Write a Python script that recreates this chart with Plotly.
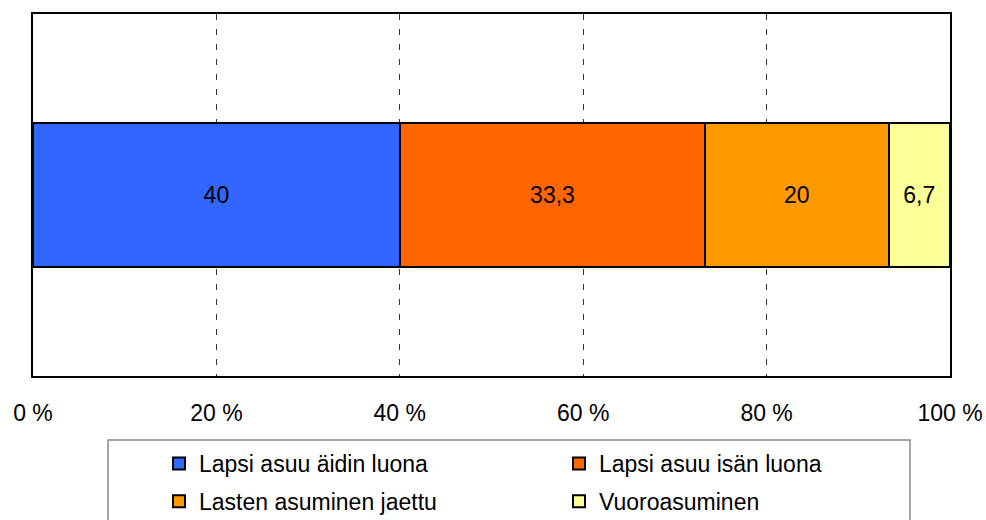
import plotly.graph_objects as go

categories = ["Lapsi asuu äidin luona", "Lapsi asuu isän luona", "Lasten asuminen jaettu", "Vuoroasuminen"]
values = [40, 33.3, 20, 6.7]
colors = ["#3366FF", "#FF6600", "#FF9900", "#FFFF99"]
legend_column = ["legend", "legend2", "legend", "legend2"]
tick_values = [0, 20, 40, 60, 80, 100]
tick_labels = ["0 %", "20 %", "40 %", "60 %", "80 %", "100 %"]

W, H = 986, 520
PL, PR, PT, PB = 33, 950, 14, 376          # plot area in page pixels
L, R, T, B = PL, W - PR, PT, H - PB
pw = W - L - R
ph = H - T - B
FONT = "Liberation Sans, Arial, sans-serif"


def px(xp):
    return (xp - PL) / pw


def py(yp):
    return (PB - yp) / ph


fig = go.Figure()
for i, (name, v, c, lg) in enumerate(zip(categories, values, colors, legend_column)):
    fig.add_trace(go.Bar(
        x=[v], y=[0], name=name, orientation="h", width=0.4,
        legend=lg, legendgroup=f"g{i}",
        marker=dict(color=c, line=dict(color="black", width=2)),
        text=[f"{v:g}".replace(".", ",")], textposition="inside",
        insidetextanchor="middle",
        textfont=dict(color="black", size=23, family=FONT),
        hoverinfo="skip",
    ))

legend_common = dict(orientation="v", xanchor="left", yanchor="top",
                     y=py(442), bgcolor="rgba(0,0,0,0)", borderwidth=0,
                     font=dict(size=23, family=FONT, color="black"),
                     traceorder="grouped", tracegroupgap=5, itemwidth=30)

fig.update_layout(
    width=W, height=H, barmode="stack",
    margin=dict(l=L, r=R, t=T, b=B, autoexpand=False),
    paper_bgcolor="white", plot_bgcolor="white",
    font=dict(family=FONT, size=23, color="black"),
    xaxis=dict(range=[0, 100], tickvals=tick_values, ticktext=tick_labels,
               showgrid=True, gridcolor="#333333", griddash="6px,9px", gridwidth=1,
               showline=True, linecolor="black", linewidth=2, mirror=True,
               ticks="", zeroline=False, tickfont=dict(size=23), ticklabelstandoff=15),
    yaxis=dict(range=[-0.5, 0.5], showticklabels=False, showgrid=False,
               showline=True, linecolor="black", linewidth=2, mirror=True,
               zeroline=False, ticks=""),
    showlegend=True,
    legend=dict(x=px(159), **legend_common),
    legend2=dict(x=px(559), **legend_common),
    shapes=[dict(type="rect", xref="paper", yref="paper",
                 x0=px(108), x1=px(910), y0=py(440), y1=py(540),
                 line=dict(color="#888888", width=1.5), fillcolor="rgba(0,0,0,0)",
                 layer="below")],
)

fig.write_html("out.html",
               config={"displayModeBar": False, "staticPlot": True},
               post_script="document.body.style.margin='0';"
                           "document.body.style.overflow='hidden';")
